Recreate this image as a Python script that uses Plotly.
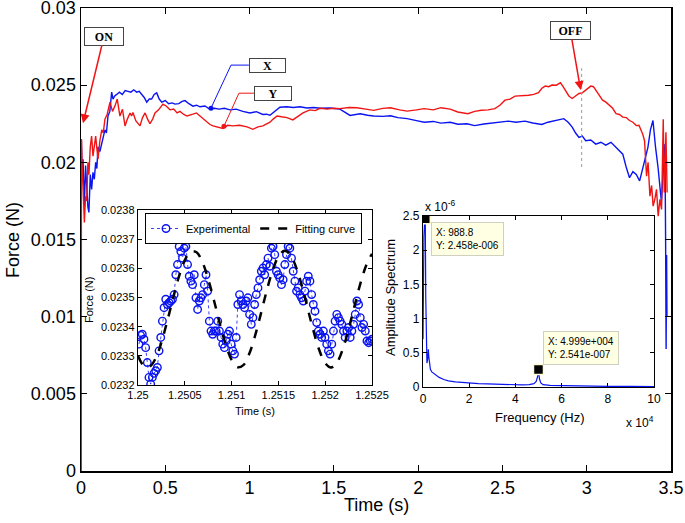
import numpy as np
import plotly.graph_objects as go

# ---------------- main chart data ----------------
t_x = [0, 0.002, 0.006, 0.012, 0.02, 0.027, 0.034, 0.041, 0.047, 0.055, 0.063, 0.071, 0.079, 0.087, 0.094,
       0.101, 0.112, 0.123, 0.132, 0.142, 0.151, 0.160, 0.171, 0.182, 0.190, 0.200, 0.212, 0.228, 0.245, 0.262,
       0.279, 0.296, 0.313, 0.330, 0.345, 0.360, 0.375, 0.390, 0.405, 0.419, 0.434, 0.449, 0.464, 0.479, 0.50,
       0.52, 0.54, 0.558, 0.58, 0.60, 0.617, 0.64, 0.664, 0.685, 0.706, 0.735, 0.765, 0.79, 0.82, 0.85, 0.884,
       0.92, 0.96, 1.002, 1.04, 1.079, 1.10, 1.121, 1.15, 1.180, 1.22, 1.26, 1.299, 1.34, 1.38, 1.42, 1.477,
       1.536, 1.596, 1.656, 1.70, 1.736, 1.79, 1.836, 1.88, 1.935, 1.99, 2.036, 2.09, 2.135, 2.19, 2.236, 2.29,
       2.335, 2.39, 2.435, 2.49, 2.535, 2.58, 2.634, 2.68, 2.734, 2.77, 2.814, 2.864, 2.89, 2.914, 2.934, 2.954,
       2.974, 2.994, 3.024, 3.054, 3.084, 3.113, 3.144, 3.174, 3.194, 3.214, 3.234, 3.254, 3.274, 3.294, 3.314,
       3.333, 3.348, 3.363, 3.378, 3.393, 3.408, 3.423, 3.443, 3.455, 3.464, 3.468, 3.471, 3.474, 3.476]
force_x = [0.0, 0.0215, 0.0195, 0.0202, 0.0172, 0.0198, 0.01825, 0.0171, 0.01675, 0.0192, 0.01825, 0.01935,
           0.0189, 0.0200, 0.0196, 0.0210, 0.0207, 0.0213, 0.0217, 0.0221, 0.0219, 0.0230, 0.0233, 0.02455,
           0.0241, 0.0243, 0.0244, 0.02455, 0.0244, 0.02465, 0.0246, 0.02455, 0.0247, 0.02455, 0.0246, 0.0244,
           0.0242, 0.0239, 0.0241, 0.0241, 0.0244, 0.0245, 0.0241, 0.0239, 0.0240, 0.0238, 0.02385, 0.02377,
           0.0238, 0.02395, 0.0240, 0.0238, 0.02364, 0.0237, 0.0236, 0.02365, 0.02344, 0.0235, 0.02345, 0.0235,
           0.0234, 0.02345, 0.0233, 0.0232, 0.02328, 0.0231, 0.02312, 0.02305, 0.0233, 0.02357, 0.0236, 0.02355,
           0.0236, 0.02352, 0.02355, 0.0235, 0.02352, 0.02345, 0.02304, 0.02315, 0.02305, 0.0230, 0.02298,
           0.02302, 0.0229, 0.02283, 0.0227, 0.0226, 0.02265, 0.02254, 0.0226, 0.02247, 0.0225, 0.02238, 0.02248,
           0.02254, 0.0226, 0.02267, 0.0226, 0.02267, 0.02255, 0.02245, 0.0226, 0.02271, 0.02283, 0.0226,
           0.02228, 0.0219, 0.02162, 0.0217, 0.0214, 0.02145, 0.02118, 0.0213, 0.02111, 0.0213, 0.02097, 0.0208,
           0.02053, 0.0197, 0.0190, 0.0194, 0.01922, 0.0188, 0.01965, 0.0203, 0.02097, 0.0221, 0.02271, 0.0210,
           0.01968, 0.01747, 0.0195, 0.02118, 0.0150, 0.0079, 0.0140, 0.0100]

t_y = [0, 0.003, 0.006, 0.012, 0.02, 0.027, 0.034, 0.041, 0.047, 0.055, 0.063, 0.071, 0.079, 0.087, 0.094,
       0.101, 0.112, 0.123, 0.132, 0.142, 0.155, 0.172, 0.187, 0.202, 0.215, 0.231, 0.246, 0.261, 0.275, 0.291,
       0.300, 0.308, 0.325, 0.350, 0.365, 0.380, 0.395, 0.409, 0.425, 0.439, 0.460, 0.486, 0.505, 0.528, 0.550,
       0.570, 0.587, 0.610, 0.629, 0.650, 0.664, 0.685, 0.706, 0.727, 0.747, 0.765, 0.783, 0.81, 0.842, 0.87,
       0.902, 0.94, 0.985, 1.020, 1.05, 1.079, 1.100, 1.121, 1.140, 1.163, 1.19, 1.222, 1.257, 1.29, 1.317,
       1.358, 1.39, 1.418, 1.46, 1.495, 1.536, 1.59, 1.636, 1.69, 1.736, 1.79, 1.836, 1.89, 1.935, 1.99, 2.036,
       2.09, 2.135, 2.19, 2.235, 2.295, 2.335, 2.375, 2.415, 2.455, 2.485, 2.515, 2.545, 2.575, 2.615, 2.655,
       2.685, 2.714, 2.734, 2.754, 2.774, 2.794, 2.82, 2.844, 2.86, 2.874, 2.894, 2.914, 2.934, 2.954, 2.974,
       2.994, 3.024, 3.04, 3.054, 3.074, 3.094, 3.114, 3.134, 3.154, 3.174, 3.194, 3.214, 3.234, 3.254, 3.274,
       3.294, 3.31, 3.323, 3.333, 3.343, 3.355, 3.364, 3.375, 3.385, 3.394, 3.404, 3.414, 3.424, 3.434, 3.444,
       3.454, 3.46, 3.47, 3.477]
force_y = [0.0, 0.0215, 0.0200, 0.0185, 0.0161, 0.0178, 0.0175, 0.0200, 0.0192, 0.0210, 0.0217, 0.0204, 0.0210,
           0.0217, 0.0209, 0.0202, 0.0214, 0.0221, 0.0219, 0.0228, 0.0231, 0.0239, 0.0233, 0.02366, 0.0241,
           0.0230, 0.02344, 0.02236, 0.0228, 0.0232, 0.0230, 0.02323, 0.0227, 0.02236, 0.0229, 0.0232, 0.0228,
           0.0225, 0.0228, 0.0232, 0.0234, 0.02377, 0.02365, 0.0234, 0.02345, 0.0232, 0.0233, 0.0231, 0.0230,
           0.0231, 0.02312, 0.0232, 0.0230, 0.0228, 0.0226, 0.02245, 0.02236, 0.0223, 0.0222, 0.0224, 0.02236,
           0.0224, 0.0223, 0.02214, 0.0223, 0.02236, 0.0225, 0.0226, 0.0228, 0.0230, 0.02295, 0.0229, 0.02275,
           0.0230, 0.0232, 0.0234, 0.02335, 0.0235, 0.02345, 0.0235, 0.02348, 0.02355, 0.02354, 0.02345, 0.02337,
           0.0235, 0.02354, 0.0234, 0.02332, 0.0234, 0.02348, 0.0234, 0.02354, 0.02345, 0.02326, 0.02315, 0.0233,
           0.02337, 0.0234, 0.02348, 0.0237, 0.02403, 0.0241, 0.02429, 0.0243, 0.02435, 0.0244, 0.02451, 0.0248,
           0.02494, 0.0249, 0.02501, 0.0250, 0.02516, 0.0249, 0.02468, 0.0243, 0.02414, 0.0243, 0.02446, 0.0245,
           0.02468, 0.02494, 0.0249, 0.02468, 0.0243, 0.02403, 0.0239, 0.0237, 0.0235, 0.02315, 0.0231, 0.02293,
           0.0229, 0.02271, 0.0226, 0.02238, 0.0224, 0.02206, 0.0218, 0.0214, 0.0191, 0.0200, 0.01781, 0.0185,
           0.01716, 0.0176, 0.01825, 0.01651, 0.0176, 0.01695, 0.02279, 0.01805, 0.02195, 0.01805]

main_xticks = [0, 0.5, 1, 1.5, 2, 2.5, 3, 3.5]
main_yticks = [0, 0.005, 0.01, 0.015, 0.02, 0.025, 0.03]
main_ylabels = ["0", "0.005", "0.01", "0.015", "0.02", "0.025", "0.03"]

# ---------------- inset 1 data (zoom around 1.25 s) ----------------
exp_force = [0.02334, 0.02337, 0.023374, 0.023357, 0.023328, 0.023277, 0.023226, 0.023203, 0.023226, 0.02324,
             0.023249, 0.02326, 0.023317, 0.023363, 0.023419, 0.023465, 0.023494, 0.023476, 0.023482, 0.023488,
             0.023494, 0.02351, 0.023578, 0.023613, 0.023675, 0.023658, 0.023635, 0.023669, 0.023675, 0.023613,
             0.023573, 0.023556, 0.023544, 0.023578, 0.023499, 0.023459, 0.023488, 0.023499, 0.02351, 0.023544,
             0.023578, 0.023522, 0.023419, 0.023385, 0.023374, 0.023385, 0.023385, 0.023419, 0.023385, 0.023363,
             0.02334, 0.023328, 0.023351, 0.023374, 0.023385, 0.02334, 0.023317, 0.023306, 0.023363, 0.023476,
             0.02351, 0.023488, 0.023476, 0.023465, 0.023488, 0.023499, 0.023442,
             0.023408, 0.023431, 0.023476, 0.02351, 0.023533, 0.023561, 0.02359, 0.023601, 0.023578, 0.023613,
             0.023635, 0.023607, 0.023669, 0.023675, 0.023647, 0.02359, 0.023578, 0.023567, 0.023544, 0.023561,
             0.023613, 0.023647, 0.023675, 0.023669, 0.023635, 0.02359, 0.023556, 0.023522, 0.023533, 0.02351,
             0.023499, 0.023488, 0.023522, 0.023556, 0.023573, 0.023556, 0.02351, 0.023476, 0.023453, 0.023414,
             0.023385, 0.023374, 0.023363, 0.023385, 0.023363, 0.02334, 0.023317, 0.023306, 0.02334, 0.023385,
             0.023419, 0.023442, 0.023431, 0.023419, 0.023408, 0.023385, 0.023363, 0.023385, 0.023397, 0.023363,
             0.023385, 0.023408, 0.023442, 0.023488, 0.023476, 0.023431, 0.023397, 0.023408, 0.023385, 0.023351,
             0.023345, 0.023351, 0.023357]
exp_time = np.linspace(1.25001, 1.2525, len(exp_force))

fit_force = [0.023300, 0.023266, 0.023263, 0.023291, 0.023346, 0.023419, 0.023498, 0.023572, 0.023628, 0.023657,
             0.023655, 0.023622, 0.023563, 0.023489, 0.023409, 0.023338, 0.023286, 0.023261, 0.023268, 0.023306,
             0.023368, 0.023444, 0.023523, 0.023592, 0.023640, 0.023660, 0.023648, 0.023605, 0.023541, 0.023463,
             0.023385, 0.023319, 0.023275, 0.023260, 0.023277, 0.023323, 0.023391, 0.023470, 0.023547, 0.023610,
             0.023650]
fit_time = np.linspace(1.25, 1.2525, len(fit_force))

in1_xticks = [1.25, 1.2505, 1.251, 1.2515, 1.252, 1.2525]
in1_xlabels = ["1.25", "1.2505", "1.251", "1.2515", "1.252", "1.2525"]
in1_yticks = [0.0232, 0.0233, 0.0234, 0.0235, 0.0236, 0.0237, 0.0238]
in1_ylabels = ["0.0232", "0.0233", "0.0234", "0.0235", "0.0236", "0.0237", "0.0238"]

# ---------------- inset 2 data (spectrum) ----------------
freq = [0, 150, 400, 700, 988.8, 1200, 1400, 1700, 2000, 2300, 2500, 2800, 3200, 3800, 4500, 5500, 7000, 9000,
        11000, 14000, 17000, 20000, 24000, 28000, 32000, 36000, 40000, 43000, 46000, 48000, 49000, 49600, 49990,
        50400, 51000, 52000, 55000, 60000, 65000, 70000, 75000, 80000, 90000, 100000]
amp = [0.7e-6, 1.6e-6, 2.2e-6, 2.4e-6, 2.458e-6, 1.3e-6, 0.6e-6, 0.35e-6, 0.4e-6, 0.55e-6, 0.45e-6, 0.3e-6,
       0.26e-6, 0.22e-6, 0.2e-6, 0.17e-6, 0.14e-6, 0.11e-6, 0.09e-6, 0.075e-6, 0.065e-6, 0.055e-6, 0.05e-6,
       0.045e-6, 0.04e-6, 0.035e-6, 0.03e-6, 0.03e-6, 0.035e-6, 0.05e-6, 0.08e-6, 0.15e-6, 0.2541e-6, 0.12e-6,
       0.06e-6, 0.035e-6, 0.025e-6, 0.02e-6, 0.018e-6, 0.015e-6, 0.012e-6, 0.01e-6, 0.008e-6, 0.006e-6]
tip_freq = [988.8, 49990]
tip_amp = [2.458e-6, 2.541e-7]
tip_text = ["X: 988.8<br>Y: 2.458e-006", "X: 4.999e+004<br>Y: 2.541e-007"]
in2_xticks = [0, 20000, 40000, 60000, 80000, 100000]
in2_xlabels = ["0", "2", "4", "6", "8", "10"]
in2_yticks = [0, 0.5e-6, 1e-6, 1.5e-6, 2e-6, 2.5e-6]
in2_ylabels = ["0", "0.5", "1", "1.5", "2", "2.5"]

# callouts on main chart
callout_x_t = [0.996, 0.890, 0.771]
callout_x_f = [0.0263, 0.0263, 0.02351]
callout_y_t = [1.026, 0.937, 0.848]
callout_y_f = [0.02448, 0.02448, 0.02234]

BLUE = "#0a14f0"
RED = "#f01414"
FONT = "Liberation Sans, Arial, sans-serif"
SERIF = "Liberation Serif, Times New Roman, serif"
W, H = 685, 523


def px(x):
    return x / W


def py(y):
    return 1 - y / H


fig = go.Figure()

# main traces
fig.add_trace(go.Scatter(x=t_x, y=force_x, mode="lines", line=dict(color=BLUE, width=1.4),
                         xaxis="x", yaxis="y", showlegend=False, hoverinfo="skip"))
fig.add_trace(go.Scatter(x=t_y, y=force_y, mode="lines", line=dict(color=RED, width=1.4),
                         xaxis="x", yaxis="y", showlegend=False, hoverinfo="skip"))
fig.add_trace(go.Scatter(x=callout_x_t, y=callout_x_f, mode="lines", line=dict(color=BLUE, width=1),
                         xaxis="x", yaxis="y", showlegend=False, hoverinfo="skip"))
fig.add_trace(go.Scatter(x=callout_y_t, y=callout_y_f, mode="lines", line=dict(color=RED, width=1),
                         xaxis="x", yaxis="y", showlegend=False, hoverinfo="skip"))
fig.add_trace(go.Scatter(x=[callout_x_t[-1], callout_y_t[-1]], y=[callout_x_f[-1], callout_y_f[-1]],
                         mode="markers", marker=dict(color=[BLUE, RED], size=5),
                         xaxis="x", yaxis="y", showlegend=False, hoverinfo="skip"))

# inset 1
fig.add_trace(go.Scatter(x=exp_time, y=exp_force, mode="lines+markers", name="Experimental",
                         line=dict(color=BLUE, width=0.8, dash="dot"),
                         marker=dict(symbol="circle-open", size=7.5, color=BLUE, line=dict(width=1.4)),
                         xaxis="x2", yaxis="y2", hoverinfo="skip"))
fig.add_trace(go.Scatter(x=fit_time, y=fit_force, mode="lines", name="Fitting curve",
                         line=dict(color="black", width=2.5, dash="dash", shape="spline"),
                         xaxis="x2", yaxis="y2", hoverinfo="skip"))

# inset 2
fig.add_trace(go.Scatter(x=freq, y=amp, mode="lines", line=dict(color=BLUE, width=1.2),
                         xaxis="x3", yaxis="y3", showlegend=False, hoverinfo="skip"))
fig.add_trace(go.Scatter(x=tip_freq, y=tip_amp, mode="markers",
                         marker=dict(symbol="square", size=10, color="black",
                                     line=dict(color="#fffbd0", width=1.5)),
                         xaxis="x3", yaxis="y3", showlegend=False, hoverinfo="skip"))

axis_common = dict(showline=True, linecolor="black", mirror="ticks", ticks="inside",
                   showgrid=False, zeroline=False, tickcolor="black", automargin=False,
                   ticklabeloverflow="allow")

fig.update_layout(
    width=W, height=H, margin=dict(l=0, r=0, t=0, b=0, autoexpand=False),
    paper_bgcolor="white", plot_bgcolor="white",
    font=dict(family=FONT, color="black"),
    hovermode=False,
    xaxis=dict(domain=[px(81), px(671)], range=[0, 3.5], tickvals=main_xticks,
               ticklen=6, linewidth=1.5, tickwidth=1.2, tickfont=dict(size=18), anchor="y", **axis_common),
    yaxis=dict(domain=[py(471), py(8)], range=[0, 0.03], tickvals=main_yticks, ticktext=main_ylabels,
               ticklen=6, linewidth=1.5, tickwidth=1.2, tickfont=dict(size=18), anchor="x", **axis_common),
    xaxis2=dict(domain=[px(138), px(372)], range=[1.25, 1.2525], tickvals=in1_xticks,
                ticktext=in1_xlabels, ticklen=4, linewidth=1.2, tickfont=dict(size=11), anchor="y2",
                **axis_common),
    yaxis2=dict(domain=[py(385), py(210)], range=[0.0232, 0.0238], tickvals=in1_yticks,
                ticktext=in1_ylabels, ticklen=4, linewidth=1.2, tickfont=dict(size=11), anchor="x2",
                **axis_common),
    xaxis3=dict(domain=[px(423), px(654)], range=[0, 100000], tickvals=in2_xticks, ticktext=in2_xlabels,
                ticklen=4, linewidth=1.2, tickfont=dict(size=12), anchor="y3", **axis_common),
    yaxis3=dict(domain=[py(387), py(216)], range=[0, 2.5e-6], tickvals=in2_yticks, ticktext=in2_ylabels,
                ticklen=4, linewidth=1.2, tickfont=dict(size=12), anchor="x3", **axis_common),
    legend=dict(x=px(145), y=py(213), xanchor="left", yanchor="top", orientation="h",
                bordercolor="black", borderwidth=1, bgcolor="white", font=dict(size=11),
                tracegroupgap=0, itemwidth=30),
)


def label(text, x, y, size, angle=0, xanchor="center", yanchor="middle"):
    return dict(text=text, x=px(x), y=py(y), xref="paper", yref="paper", showarrow=False,
                textangle=angle, xanchor=xanchor, yanchor=yanchor, font=dict(size=size))


annotations = [
    label("Time (s)", 376, 505, 18),
    label("Force (N)", 13, 240, 18, angle=-90),
    label("Time (s)", 255, 411, 11),
    label("Force (N)", 89, 300, 11, angle=-90),
    label("Frequency (Hz)", 540, 417, 13),
    label("Amplitude Spectrum", 390, 298, 13, angle=-90),
    label("x 10<sup>-6</sup>", 423, 206, 12, xanchor="left"),
    label("x 10<sup>4</sup>", 624, 422, 12, xanchor="left"),
    # data tips
    dict(text=tip_text[0], x=3463, y=2.412e-6, xref="x3", yref="y3", showarrow=False, xanchor="left",
         yanchor="top", align="left", bgcolor="#ffffe4", bordercolor="#d0d0c0", borderwidth=1, borderpad=4,
         font=dict(size=10)),
    dict(text=tip_text[1], x=51950, y=0.819e-6, xref="x3", yref="y3", showarrow=False, xanchor="left",
         yanchor="top", align="left", bgcolor="#ffffe4", bordercolor="#d0d0c0", borderwidth=1, borderpad=4,
         font=dict(size=10)),
    # ON / OFF arrows
    dict(text="<b>ON</b>", x=0.0119, y=0.02253, ax=0.1364, ay=0.02815, xref="x", yref="y", axref="x", ayref="y",
         showarrow=True, arrowhead=2, arrowsize=1.2, arrowwidth=1.5, arrowcolor=RED, bgcolor="white",
         bordercolor="#444", borderwidth=1, width=34, height=13, borderpad=2,
         font=dict(family=SERIF, size=12)),
    dict(text="<b>OFF</b>", x=2.964, y=0.02468, ax=2.903, ay=0.02854, xref="x", yref="y", axref="x", ayref="y",
         showarrow=True, arrowhead=2, arrowsize=1.2, arrowwidth=1.5, arrowcolor=RED, bgcolor="white",
         bordercolor="#444", borderwidth=1, width=35, height=13, borderpad=2,
         font=dict(family=SERIF, size=12)),
    dict(text="<b>X</b>", x=1.106, y=0.0263, xref="x", yref="y", showarrow=False, bgcolor="white",
         bordercolor="#444", borderwidth=1, width=33, height=11, borderpad=1,
         font=dict(family=SERIF, size=12)),
    dict(text="<b>Y</b>", x=1.139, y=0.02448, xref="x", yref="y", showarrow=False, bgcolor="white",
         bordercolor="#444", borderwidth=1, width=34, height=11, borderpad=1,
         font=dict(family=SERIF, size=12)),
]
fig.update_layout(annotations=annotations)

fig.add_shape(type="line", x0=2.97, x1=2.97, y0=0.0197, y1=0.0261, xref="x", yref="y",
              line=dict(color="#999999", width=1, dash="dot"))

# remove the default 8px body margin so the figure sits at the window's top-left corner
fig.write_html("out.html", config={"displayModeBar": False, "staticPlot": True},
               post_script="document.body.style.margin='0px';")
